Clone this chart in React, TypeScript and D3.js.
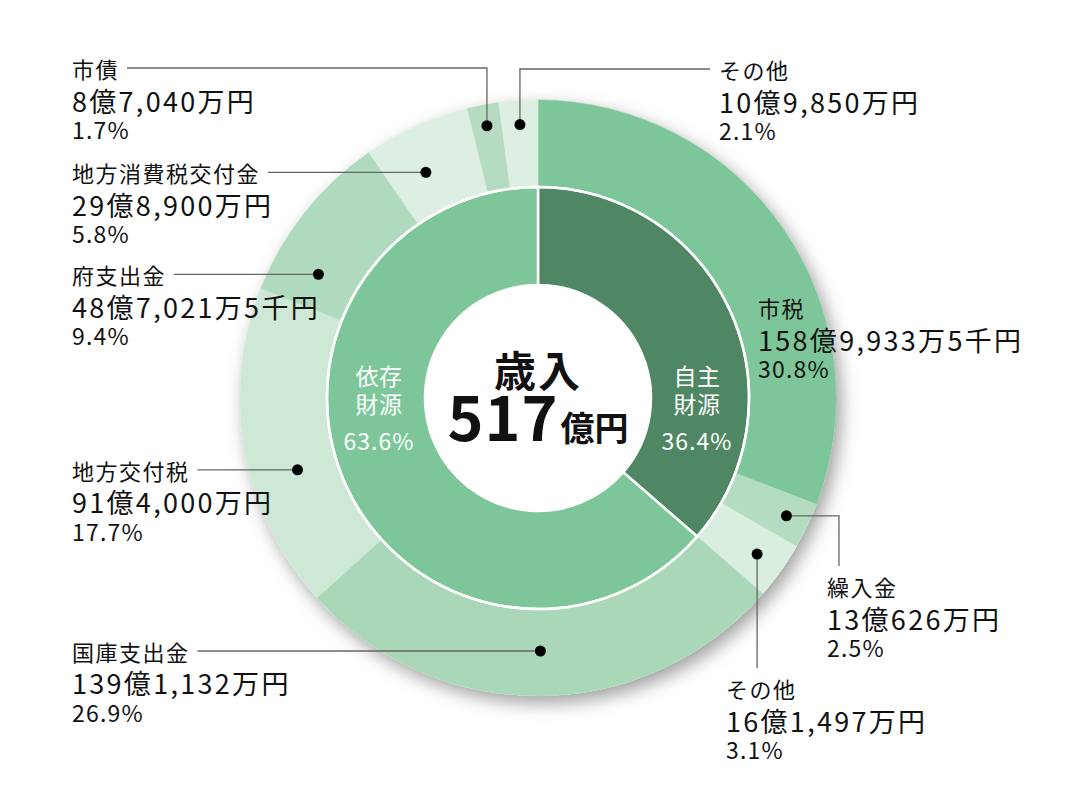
import { useEffect, useRef } from "react";
import * as d3 from "d3";

// outer ring, clockwise from 12 o'clock
const outerNames = [
  "市税",
  "繰入金",
  "その他",
  "国庫支出金",
  "地方交付税",
  "府支出金",
  "地方消費税交付金",
  "市債",
  "その他",
];
const outerAmounts = [
  "158億9,933万5千円",
  "13億626万円",
  "16億1,497万円",
  "139億1,132万円",
  "91億4,000万円",
  "48億7,021万5千円",
  "29億8,900万円",
  "8億7,040万円",
  "10億9,850万円",
];
const outerShares = [30.8, 2.5, 3.1, 26.9, 17.7, 9.4, 5.8, 1.7, 2.1];

// inner ring
const innerNames = [
  ["自主", "財源"],
  ["依存", "財源"],
];
const innerShares = [36.4, 63.6];

const centerTitle = "歳入";
const centerValue = "517";
const centerUnit = "億円";

const outerColors = [
  "#7DC699",
  "#B4DCC1",
  "#DAEEDF",
  "#AAD7B8",
  "#CDE8D5",
  "#B0DABD",
  "#DCEFE2",
  "#B5DCC1",
  "#DCEFE2",
];
const innerColors = ["#4F8764", "#7DC699"];

// label layout: how the leader runs, where on the slice the dot sits
const layout = [
  { kind: "none", frac: 0.5, r: 255, lx: 758, ly: 307 },
  { kind: "rightDown", frac: 0.5, r: 275, lx: 827, ly: 586 },
  { kind: "down", frac: 0.5, r: 269, lx: 726, ly: 688 },
  { kind: "left", frac: 0.5, r: 253, lx: 72, ly: 0 },
  { kind: "left", frac: 0.4, r: 251, lx: 72, ly: 0 },
  { kind: "left", frac: 0.23, r: 252, lx: 72, ly: 0 },
  { kind: "left", frac: 0.39, r: 252, lx: 72, ly: 0 },
  { kind: "upLeft", frac: 0.5, r: 277, lx: 72, ly: 68 },
  { kind: "upRight", frac: 0.5, r: 274, lx: 719, ly: 69 },
];

const FONT = "'Noto Sans CJK JP', 'Noto Sans', sans-serif";

export default function App() {
  const svgRef = useRef<SVGSVGElement>(null);

  useEffect(() => {
    if (!svgRef.current) return;
    document.body.style.margin = "0";

    const width = 1080;
    const height = 811;
    const cx = 538;
    const cy = 398;
    const rOuter = 298;
    const rMid = 211;
    const rHole = 113;

    const svg = d3.select(svgRef.current);
    svg.selectAll("*").remove();
    svg.attr("width", width).attr("height", height);

    // Shadow
    const defs = svg.append("defs");
    const filter = defs
      .append("filter")
      .attr("id", "ringShadow")
      .attr("x", "-20%")
      .attr("y", "-20%")
      .attr("width", "140%")
      .attr("height", "140%");
    filter
      .append("feDropShadow")
      .attr("dx", 5)
      .attr("dy", 7)
      .attr("stdDeviation", 9)
      .attr("flood-color", "#000")
      .attr("flood-opacity", 0.38);

    const g = svg.append("g").attr("transform", `translate(${cx},${cy})`);

    g.append("circle")
      .attr("r", rOuter)
      .attr("fill", "#fff")
      .attr("filter", "url(#ringShadow)");

    const pie = d3
      .pie<number>()
      .sort(null)
      .value((d) => d);

    const outerArcs = pie(outerShares);
    const innerArcs = pie(innerShares);

    const outerArc = d3
      .arc<d3.PieArcDatum<number>>()
      .innerRadius(rMid - 2)
      .outerRadius(rOuter);

    const innerArc = d3
      .arc<d3.PieArcDatum<number>>()
      .innerRadius(rHole)
      .outerRadius(rMid);

    // Outer ring
    g.selectAll("path.outer")
      .data(outerArcs)
      .enter()
      .append("path")
      .attr("class", "outer")
      .attr("d", outerArc)
      .attr("fill", (_, i) => outerColors[i])
      .attr("stroke", (_, i) => outerColors[i])
      .attr("stroke-width", 0.6);

    // Inner ring
    g.selectAll("path.inner")
      .data(innerArcs)
      .enter()
      .append("path")
      .attr("class", "inner")
      .attr("d", innerArc)
      .attr("fill", (_, i) => innerColors[i])
      .attr("stroke", "#fff")
      .attr("stroke-width", 2.5)
      .attr("stroke-linejoin", "round");

    // white rim between rings
    g.append("circle")
      .attr("r", rMid)
      .attr("fill", "none")
      .attr("stroke", "#fff")
      .attr("stroke-width", 2.5);

    g.append("circle").attr("r", rHole).attr("fill", "#fff");

    // Inner labels
    const midR = (rHole + rMid) / 2;
    innerArcs.forEach((a, i) => {
      const side = (a.startAngle + a.endAngle) / 2 < Math.PI ? 1 : -1;
      const x = side * (midR - 3);
      const t = g
        .append("g")
        .attr("fill", "#fff")
        .attr("font-family", FONT)
        .attr("text-anchor", "middle")
        .attr("dominant-baseline", "central");
      t.append("text")
        .attr("x", x)
        .attr("y", -23)
        .attr("font-size", 23)
        .attr("letter-spacing", 0.5)
        .text(innerNames[i][0]);
      t.append("text")
        .attr("x", x)
        .attr("y", 5)
        .attr("font-size", 23)
        .attr("letter-spacing", 0.5)
        .text(innerNames[i][1]);
      t.append("text")
        .attr("x", x)
        .attr("y", 42)
        .attr("font-size", 23)
        .attr("letter-spacing", 1)
        .text(`${innerShares[i].toFixed(1)}%`);
    });

    // Center total
    g.append("text")
      .attr("x", 0)
      .attr("y", -30)
      .attr("text-anchor", "middle")
      .attr("dominant-baseline", "central")
      .attr("font-family", FONT)
      .attr("font-weight", "bold")
      .attr("font-size", 42)
      .attr("letter-spacing", 2)
      .attr("fill", "#111")
      .text(centerTitle);

    const total = g
      .append("text")
      .attr("x", 0)
      .attr("y", 43)
      .attr("text-anchor", "middle")
      .attr("font-family", FONT)
      .attr("font-weight", "bold")
      .attr("fill", "#111");
    total
      .append("tspan")
      .attr("font-size", 61)
      .attr("letter-spacing", 1)
      .text(centerValue);
    total
      .append("tspan")
      .attr("font-size", 34)
      .attr("dx", 2)
      .text(centerUnit);

    // Outer labels + leaders
    const labels = svg.append("g").attr("font-family", FONT).attr("fill", "#111");
    const leaders = svg
      .append("g")
      .attr("fill", "none")
      .attr("stroke", "#666")
      .attr("stroke-width", 1.3);
    const dots = svg.append("g").attr("fill", "#000");

    outerArcs.forEach((a, i) => {
      const L = layout[i];
      const ang = a.startAngle + L.frac * (a.endAngle - a.startAngle);
      const dx = cx + L.r * Math.sin(ang);
      const dy = cy - L.r * Math.cos(ang);

      const ty = L.kind === "left" ? dy : L.ly;
      const block = labels.append("g");
      const title = block
        .append("text")
        .attr("x", L.lx)
        .attr("y", ty)
        .attr("dominant-baseline", "central")
        .attr("font-size", 22)
        .attr("letter-spacing", 1.5)
        .text(outerNames[i]);
      block
        .append("text")
        .attr("x", L.lx)
        .attr("y", ty + 32)
        .attr("dominant-baseline", "central")
        .attr("font-size", 27)
        .attr("letter-spacing", 2.3)
        .text(outerAmounts[i]);
      block
        .append("text")
        .attr("x", L.lx)
        .attr("y", ty + 61)
        .attr("dominant-baseline", "central")
        .attr("font-size", 23)
        .attr("letter-spacing", 1.2)
        .text(`${outerShares[i].toFixed(1)}%`);

      if (L.kind === "none") return;

      const tw = (title.node() as SVGTextElement).getComputedTextLength();
      const tEnd = L.lx + tw + 8;
      let pts: [number, number][] = [];
      if (L.kind === "left") pts = [[tEnd, dy], [dx, dy]];
      if (L.kind === "upLeft") pts = [[tEnd, ty], [dx, ty], [dx, dy]];
      if (L.kind === "upRight") pts = [[L.lx - 9, ty], [dx, ty], [dx, dy]];
      if (L.kind === "down") pts = [[dx, dy], [dx, L.ly - 20]];
      if (L.kind === "rightDown") pts = [[dx, dy], [L.lx + 12, dy], [L.lx + 12, L.ly - 20]];

      leaders.append("path").attr("d", d3.line()(pts));
      dots.append("circle").attr("cx", dx).attr("cy", dy).attr("r", 5.5);
    });
  }, []);

  return <svg ref={svgRef} style={{ display: "block", background: "#fff" }}></svg>;
}
